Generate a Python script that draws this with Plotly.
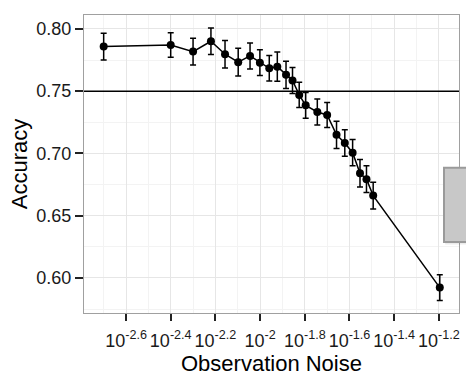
import numpy as np
import plotly.graph_objects as go

# log10 of observation noise
noise_exp = [-2.70, -2.40, -2.30, -2.22, -2.157, -2.098, -2.045, -2.001, -1.959, -1.923,
             -1.884, -1.855, -1.825, -1.796, -1.744, -1.700, -1.658, -1.621, -1.586,
             -1.553, -1.524, -1.494, -1.196]
accuracy = [0.7858, 0.7871, 0.7818, 0.7901, 0.7797, 0.7733, 0.7783, 0.7729, 0.7684, 0.7697,
            0.7631, 0.7586, 0.7470, 0.7386, 0.7333, 0.7309, 0.7149, 0.7084, 0.7006,
            0.6841, 0.6793, 0.6661, 0.5922]
err = [0.0107, 0.0098, 0.0107, 0.0107, 0.0110, 0.0111, 0.0104, 0.0104, 0.0103, 0.0117,
       0.0110, 0.0104, 0.0102, 0.0104, 0.0105, 0.0101, 0.0110, 0.0107, 0.0105,
       0.0111, 0.0107, 0.0107, 0.0103]
chance_line = 0.75

x_tick_exp = [-2.6, -2.4, -2.2, -2.0, -1.8, -1.6, -1.4, -1.2]
x_tick_text = ["10<sup>-2.6</sup>", "10<sup>-2.4</sup>", "10<sup>-2.2</sup>", "10<sup>-2</sup>",
               "10<sup>-1.8</sup>", "10<sup>-1.6</sup>", "10<sup>-1.4</sup>", "10<sup>-1.2</sup>"]
x_minor_exp = [-2.7, -2.5, -2.3, -2.1, -1.9, -1.7, -1.5, -1.3]
y_ticks = [0.60, 0.65, 0.70, 0.75, 0.80]
y_tick_text = ["0.60", "0.65", "0.70", "0.75", "0.80"]
y_minor = [0.575, 0.625, 0.675, 0.725, 0.775]

x_vals = [10 ** e for e in noise_exp]

fig = go.Figure()
fig.add_trace(go.Scatter(
    x=x_vals, y=accuracy, mode="lines+markers",
    line=dict(color="black", width=1.5),
    marker=dict(color="black", size=8),
    error_y=dict(type="data", array=err, color="black", thickness=1.5, width=3),
    showlegend=False,
))

fig.add_shape(type="line", xref="paper", x0=0, x1=1, yref="y", y0=chance_line, y1=chance_line,
              line=dict(color="black", width=1.5))

# partially visible grey box at right
fig.add_shape(type="rect", xref="paper", yref="paper", x0=0.963, x1=1.06, y0=0.230, y1=0.482,
              fillcolor="rgba(0,0,0,0.08)", line=dict(width=0), layer="above")
fig.add_shape(type="rect", xref="paper", yref="paper", x0=0.96, x1=1.06, y0=0.238, y1=0.4876,
              fillcolor="#c8c8c8", line=dict(color="#9a9a9a", width=2), layer="above")

font = "Liberation Sans, Arial, Helvetica, sans-serif"
fig.update_layout(
    width=466, height=381,
    margin=dict(l=84, r=7, t=15, b=68),
    paper_bgcolor="white", plot_bgcolor="white",
    font=dict(family=font, color="black"),
    xaxis=dict(
        type="log", range=[-2.788, -1.11],
        tickmode="array", tickvals=[10 ** e for e in x_tick_exp], ticktext=x_tick_text,
        tickfont=dict(size=18, color="#1a1a1a"),
        ticks="outside", ticklen=7, tickwidth=1.5, tickcolor="#222",
        ticklabelstandoff=4,
        showgrid=True, gridcolor="#e6e6e6", gridwidth=1,
        minor=dict(tickmode="array", tickvals=[10 ** e for e in x_minor_exp],
                   showgrid=True, gridcolor="#f3f3f3", gridwidth=1, ticklen=0),
        showline=True, linecolor="#a0a0a0", linewidth=1, mirror=True,
        zeroline=False,
        title=dict(text="Observation Noise", font=dict(size=22, color="black"), standoff=0),
    ),
    yaxis=dict(
        range=[0.5718, 0.8112],
        tickmode="array", tickvals=y_ticks, ticktext=y_tick_text,
        tickfont=dict(size=18, color="#1a1a1a"),
        ticks="outside", ticklen=8, tickwidth=1.5, tickcolor="#222",
        showgrid=True, gridcolor="#e6e6e6", gridwidth=1,
        minor=dict(tickmode="array", tickvals=y_minor,
                   showgrid=True, gridcolor="#f3f3f3", gridwidth=1, ticklen=0),
        showline=True, linecolor="#a0a0a0", linewidth=1, mirror=True,
        zeroline=False,
        title=dict(text="Accuracy", font=dict(size=22, color="black"), standoff=2),
    ),
)

fig.write_html("out.html")
